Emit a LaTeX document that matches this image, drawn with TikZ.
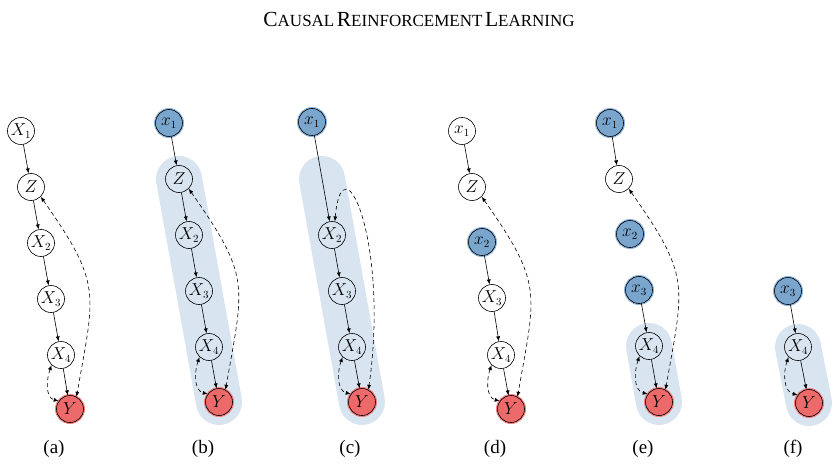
\documentclass[tikz,border=0pt]{standalone}
\usepackage{fontspec}
\setmainfont{Liberation Serif}
\usepackage{amsmath}
\usetikzlibrary{arrows.meta,backgrounds}

\definecolor{obsblue}{RGB}{122,166,206}
\definecolor{obsring}{RGB}{140,182,222}
\definecolor{outred}{RGB}{236,106,106}
\definecolor{outring}{RGB}{242,128,128}
\definecolor{bandblue}{RGB}{216,229,240}

\tikzset{
  var/.style={circle, draw, line width=0.6pt, minimum size=27pt, inner sep=0pt, font=\fontsize{16}{19}\selectfont},
  obs/.style={var, fill=obsblue, preaction={draw=obsring, line width=3pt}},
  outc/.style={var, fill=outred, preaction={draw=outring, line width=3pt}},
  edge/.style={-{Latex[length=5pt,width=4pt]}, line width=0.6pt},
  conf/.style={{Latex[length=5pt,width=4pt]}-{Latex[length=5pt,width=4pt]}, line width=0.6pt, dashed, dash pattern=on 4pt off 3pt},
  band/.style={line width=46pt, line cap=round, draw=bandblue},
  sublabel/.style={font=\fontsize{19}{22}\selectfont}
}

\newcommand{\fakesc}[2]{{\fontsize{21.5}{24}\selectfont #1}{\fontsize{17}{24}\selectfont #2}}

\begin{document}
\begin{tikzpicture}[x=1pt,y=-1pt]
  \useasboundingbox (0,0) rectangle (838,465);

  \node at (419,19) {\fakesc{C}{AUSAL} \fakesc{R}{EINFORCEMENT} \fakesc{L}{EARNING}};

  % (a) original graph
  \begin{scope}[shift={(21,131)}]
    \node[var] (Xa1) at (0,0) {$X_1$};
    \node[var] (Za) at (10,56) {$Z$};
    \node[var] (Xa2) at (20,112) {$X_2$};
    \node[var] (Xa3) at (30,168) {$X_3$};
    \node[var] (Xa4) at (40,224) {$X_4$};
    \node[outc] (Ya) at (49,278) {$Y$};
    \draw[edge] (Xa1) -- (Za);
    \draw[edge] (Za) -- (Xa2);
    \draw[edge] (Xa2) -- (Xa3);
    \draw[edge] (Xa3) -- (Xa4);
    \draw[edge] (Xa4) -- (Ya);
    \draw[conf] (Za.-45) to[out=-55,in=80,looseness=1.35] (Ya.62);
    \draw[conf] (Xa4.-133) to[out=-110,in=165] (Ya.145);
    \node[sublabel] (la) at (33,318) {(a)};
  \end{scope}

  % (b) do(x1)
  \begin{scope}[shift={(169,123)}]
    \node[obs] (Xb1) at (0,0) {$x_1$};
    \node[var] (Zb) at (10,56) {$Z$};
    \node[var] (Xb2) at (20,112) {$X_2$};
    \node[var] (Xb3) at (30,168) {$X_3$};
    \node[var] (Xb4) at (40,224) {$X_4$};
    \node[outc] (Yb) at (50,279) {$Y$};
    \begin{scope}[on background layer]
      \draw[band] (Zb.center) -- (Yb.center);
    \end{scope}
    \draw[edge] (Xb1) -- (Zb);
    \draw[edge] (Zb) -- (Xb2);
    \draw[edge] (Xb2) -- (Xb3);
    \draw[edge] (Xb3) -- (Xb4);
    \draw[edge] (Xb4) -- (Yb);
    \draw[conf] (Zb.-45) to[out=-55,in=80,looseness=1.35] (Yb.62);
    \draw[conf] (Xb4.-133) to[out=-110,in=165] (Yb.145);
    \node[sublabel] (lb) at (34,326) {(b)};
  \end{scope}

  % (c) Z removed
  \begin{scope}[shift={(312,122)}]
    \node[obs] (Xc1) at (0,0) {$x_1$};
    \coordinate (Zc) at (10,57);
    \node[var] (Xc2) at (20,113) {$X_2$};
    \node[var] (Xc3) at (30,169) {$X_3$};
    \node[var] (Xc4) at (40,225) {$X_4$};
    \node[outc] (Yc) at (50,280) {$Y$};
    \begin{scope}[on background layer]
      \draw[band] (Zc) -- (Yc.center);
    \end{scope}
    \draw[edge] (Xc1) -- (Xc2);
    \draw[edge] (Xc2) -- (Xc3);
    \draw[edge] (Xc3) -- (Xc4);
    \draw[edge] (Xc4) -- (Yc);
    \draw[conf] (Xc2.78) to[out=85,in=82,out distance=85pt,in distance=150pt] (Yc.62);
    \draw[conf] (Xc4.-133) to[out=-110,in=165] (Yc.145);
    \node[sublabel] (lc) at (38,327) {(c)};
  \end{scope}

  % (d) do(x2)
  \begin{scope}[shift={(462,131)}]
    \node[var] (Xd1) at (0,0) {$x_1$};
    \node[var] (Zd) at (10,56) {$Z$};
    \node[obs] (Xd2) at (20,111) {$x_2$};
    \node[var] (Xd3) at (30,167) {$X_3$};
    \node[var] (Xd4) at (39,224) {$X_4$};
    \node[outc] (Yd) at (49,278) {$Y$};
    \draw[edge] (Xd1) -- (Zd);
    \draw[edge] (Xd2) -- (Xd3);
    \draw[edge] (Xd3) -- (Xd4);
    \draw[edge] (Xd4) -- (Yd);
    \draw[conf] (Zd.-45) to[out=-55,in=80,looseness=1.35] (Yd.62);
    \draw[conf] (Xd4.-133) to[out=-110,in=165] (Yd.145);
    \node[sublabel] (ld) at (33,318) {(d)};
  \end{scope}

  % (e) do(x1,x2,x3)
  \begin{scope}[shift={(610,123)}]
    \node[obs] (Xe1) at (0,0) {$x_1$};
    \node[var] (Ze) at (9,56) {$Z$};
    \node[obs] (Xe2) at (20,111) {$x_2$};
    \node[obs] (Xe3) at (29,167) {$x_3$};
    \node[var] (Xe4) at (39,223) {$X_4$};
    \node[outc] (Ye) at (49,279) {$Y$};
    \begin{scope}[on background layer]
      \draw[band] (Xe4.center) -- (Ye.center);
    \end{scope}
    \draw[edge] (Xe1) -- (Ze);
    \draw[edge] (Xe3) -- (Xe4);
    \draw[edge] (Xe4) -- (Ye);
    \draw[conf] (Ze.-45) to[out=-55,in=80,looseness=1.35] (Ye.62);
    \draw[conf] (Xe4.-133) to[out=-110,in=165] (Ye.145);
    \node[sublabel] (le) at (33,326) {(e)};
  \end{scope}

  % (f) reduced graph
  \begin{scope}[shift={(759,123)}]
    \node[obs] (Xf3) at (29,168) {$x_3$};
    \node[var] (Xf4) at (39,224) {$X_4$};
    \node[outc] (Yf) at (50,280) {$Y$};
    \begin{scope}[on background layer]
      \draw[band] (Xf4.center) -- (Yf.center);
    \end{scope}
    \draw[edge] (Xf3) -- (Xf4);
    \draw[edge] (Xf4) -- (Yf);
    \draw[conf] (Xf4.-133) to[out=-110,in=165] (Yf.145);
    \node[sublabel] (lf) at (34,326) {(f)};
  \end{scope}
\end{tikzpicture}
\end{document}
